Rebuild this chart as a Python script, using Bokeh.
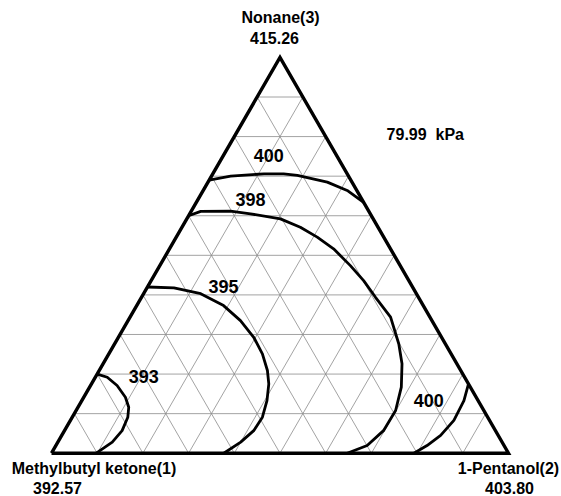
import math
from bokeh.plotting import figure
from bokeh.core.properties import value
from bokeh.embed import file_html
from bokeh.resources import INLINE

# ---- data (ternary mole fractions: x2 = 1-Pentanol, x3 = Nonane) ----
c393_x2 = [0.0, 0.026, 0.058, 0.091, 0.111, 0.1215, 0.126, 0.119, 0.098]
c393_x3 = [0.20, 0.192, 0.171, 0.1415, 0.116, 0.091, 0.057, 0.028, 0.0]

c395_x2 = [0.0, 0.059, 0.125, 0.19, 0.246, 0.296, 0.336, 0.368, 0.388, 0.405, 0.416, 0.414, 0.40, 0.377]
c395_x3 = [0.42, 0.418, 0.403, 0.373, 0.335, 0.293, 0.251, 0.209, 0.175, 0.133, 0.091, 0.057, 0.028, 0.0]

c398_x2 = [0.0, 0.021, 0.086, 0.133, 0.205, 0.259, 0.3085, 0.359, 0.417, 0.465, 0.512, 0.57,
           0.622, 0.654, 0.682, 0.699, 0.698, 0.681, 0.647]
c398_x3 = [0.60, 0.611, 0.6115, 0.605, 0.592, 0.571, 0.546, 0.5165, 0.474, 0.436, 0.394, 0.344,
           0.276, 0.226, 0.167, 0.108, 0.057, 0.0195, 0.0]

c400a_x2 = [0.0, 0.042, 0.112, 0.155, 0.187, 0.261, 0.315, 0.366]
c400a_x3 = [0.69, 0.70, 0.706, 0.706, 0.702, 0.685, 0.664, 0.634]

c400b_x2 = [0.825, 0.836, 0.839, 0.829, 0.812, 0.793]
c400b_x3 = [0.175, 0.133, 0.083, 0.045, 0.0195, 0.0]

label_text = ["400", "398", "395", "393", "400"]
label_x2 = [0.0995, 0.115, 0.166, 0.105, 0.759]
label_x3 = [0.752, 0.641, 0.421, 0.194, 0.133]

vertex_names = ["Methylbutyl ketone(1)", "1-Pentanol(2)", "Nonane(3)"]
vertex_temps = ["392.57", "403.80", "415.26"]
pressure_label = "79.99\u00a0\u00a0kPa"

grid_steps = [0.1 * k for k in range(1, 10)]

S3 = math.sqrt(3) / 2


def to_xy(x2, x3):
    return [a + b / 2 for a, b in zip(x2, x3)], [b * S3 for b in x3]


FONT = value("Liberation Sans")

p = figure(width=561, height=496, x_range=(-0.1116, 1.1160), y_range=(-0.0947, 0.9906),
           output_backend="svg", toolbar_location=None, min_border=0)
p.axis.visible = False
p.grid.visible = False
p.outline_line_color = None
p.background_fill_color = "white"

# grid lines
gx, gy = [], []
for t in grid_steps:
    xs, ys = to_xy([0.0, 1 - t], [t, t]); gx.append(xs); gy.append(ys)
    xs, ys = to_xy([t, t], [0.0, 1 - t]); gx.append(xs); gy.append(ys)
    xs, ys = to_xy([1 - t, 0.0], [0.0, 1 - t]); gx.append(xs); gy.append(ys)
p.multi_line(gx, gy, line_color="#8c8c8c", line_width=0.8)

# triangle outline
tx, ty = to_xy([0.0, 1.0, 0.0, 0.0], [0.0, 0.0, 1.0, 0.0])
p.line(tx, ty, line_color="black", line_width=3.4, line_join="miter")

# contours
for cx2, cx3 in [(c393_x2, c393_x3), (c395_x2, c395_x3), (c398_x2, c398_x3),
                 (c400a_x2, c400a_x3), (c400b_x2, c400b_x3)]:
    xs, ys = to_xy(cx2, cx3)
    p.line(xs, ys, line_color="black", line_width=2.8, line_join="round")

# contour labels
lx, ly = to_xy(label_x2, label_x3)
p.text(lx, ly, text=label_text, text_font=FONT, text_font_style="bold",
       text_font_size="18px", text_align="center", text_baseline="middle", text_color="black")

# pressure label
p.text([0.818], [0.697], text=[pressure_label], text_font=FONT, text_font_style="bold",
       text_font_size="16px", text_align="center", text_baseline="middle", text_color="black")

# vertex labels
vx, vy = to_xy([0.0, 1.0, 0.0], [0.0, 0.0, 1.0])
name_dx = [42.5, 0.0, 0.5]
name_dy = [15.0, 15.0, -40.0]
temp_dx = [6.0, 1.0, -5.5]
temp_dy = [35.0, 35.0, -19.0]
p.text(vx, vy, text=vertex_names, x_offset=name_dx, y_offset=name_dy, text_font=FONT,
       text_font_style="bold", text_font_size="16px", text_align="center",
       text_baseline="middle", text_color="black")
p.text(vx, vy, text=vertex_temps, x_offset=temp_dx, y_offset=temp_dy, text_font=FONT,
       text_font_style="bold", text_font_size="16px", text_align="center",
       text_baseline="middle", text_color="black")

open("out.html", "w").write(file_html(p, INLINE))
